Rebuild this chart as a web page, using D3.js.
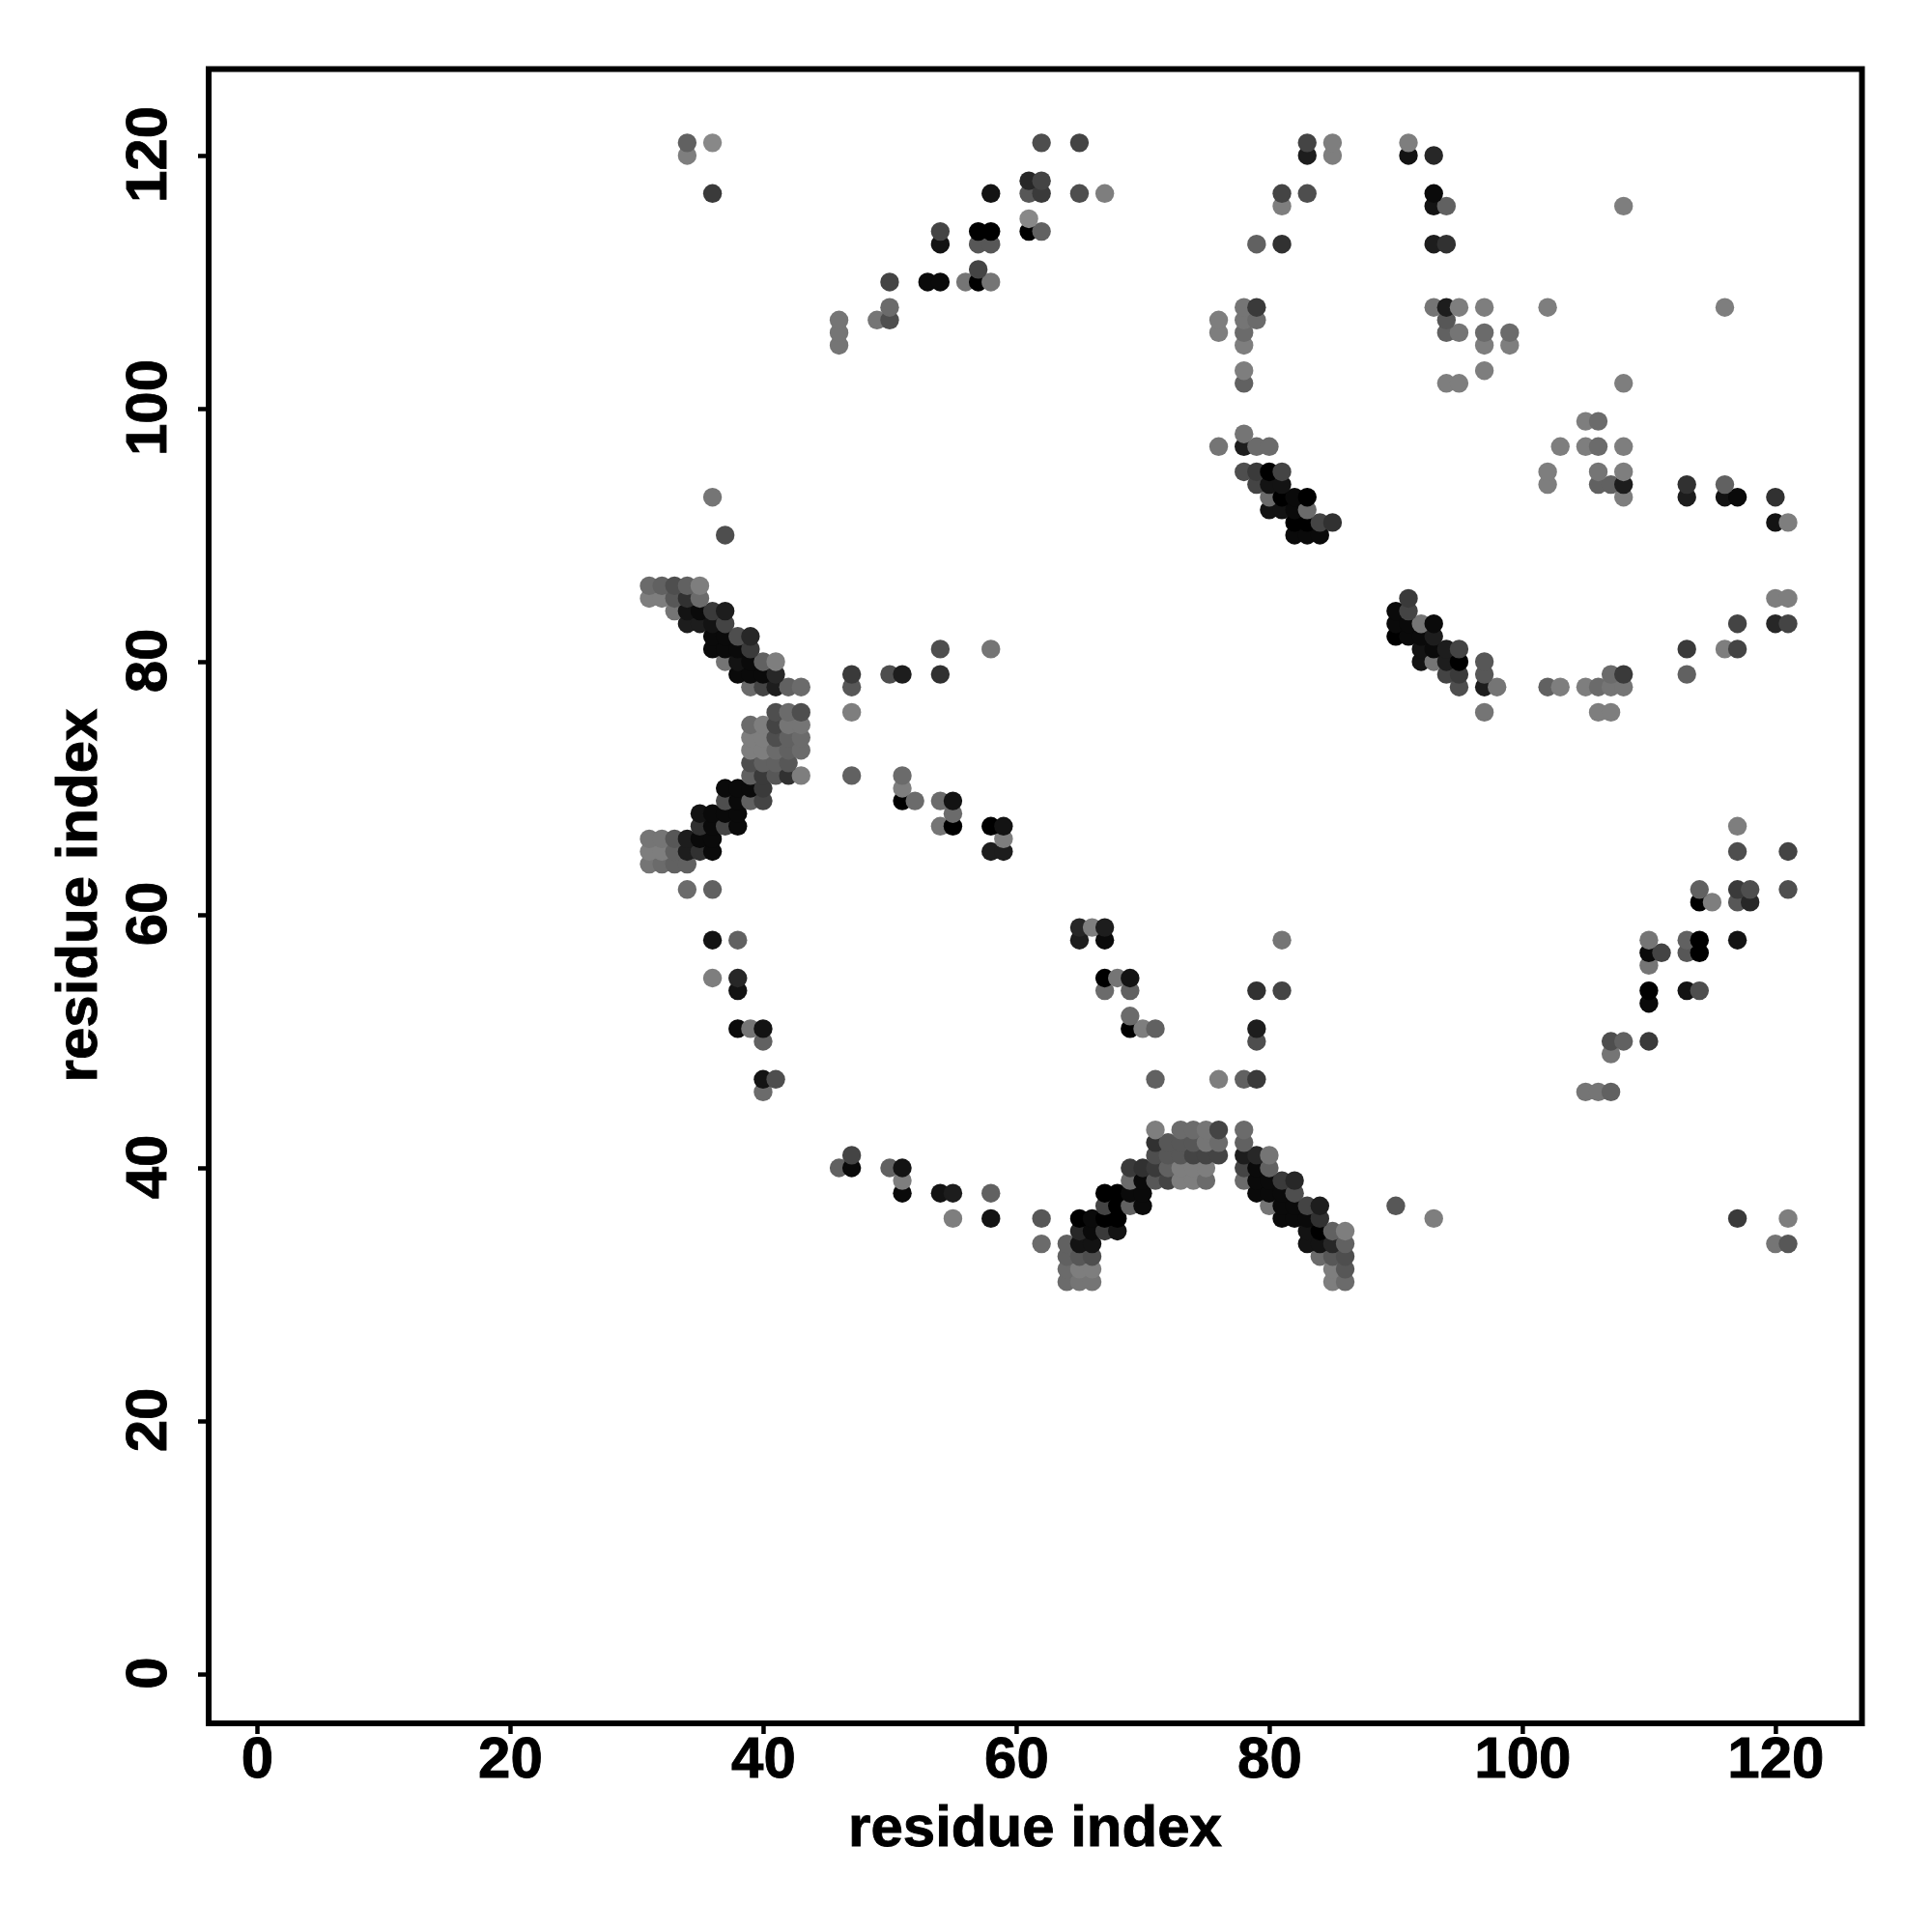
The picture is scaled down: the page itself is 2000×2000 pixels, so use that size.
<!DOCTYPE html>
<html>
<head>
<meta charset="utf-8">
<script src="https://cdn.jsdelivr.net/npm/d3@7"></script>
<style>
html,body{margin:0;padding:0;background:#fff}
svg{display:block}
text{font-family:"Liberation Sans",Arial,sans-serif;font-weight:700;fill:#000;stroke:#000;stroke-width:0.9px}
</style>
</head>
<body>
<svg id="chart" width="2000" height="2000"></svg>
<script>
// Each contact: [residue x, residue y, grey level (0 = black ... 14 = lightest)]
const clusterLeftUpper = [
[31,86,11],[32,86,10],[33,86,8],[34,86,10],[35,86,13],
[31,85,13],[32,85,13],[33,85,9],[34,85,5],[35,85,11],
[33,84,12],[34,84,2],[35,84,1],[36,84,6],[37,84,3],
[34,83,3],[35,83,3],[36,83,2],[37,83,7],
[36,82,1],[37,82,1],[38,82,8],[39,82,4],
[36,81,1],[37,81,1],[38,81,1],[39,81,6],
[37,80,12],[38,80,2],[39,80,1],[40,80,10],[41,80,13],
[38,79,1],[39,79,1],[40,79,1],[41,79,4],
[39,78,11],[40,78,7],[41,78,3],[42,78,10],[43,78,11]
];
const clusterLeftBlock = [
[41,76,8],[42,76,11],[43,76,8],
[39,75,11],[40,75,13],[41,75,7],[42,75,12],[43,75,12],
[39,74,13],[40,74,13],[41,74,8],[42,74,10],[43,74,11],
[39,73,13],[40,73,13],[41,73,11],[42,73,10],[43,73,11],
[39,72,8],[40,72,10],[41,72,10],[42,72,9],
[39,71,10],[40,71,6],[41,71,9],[42,71,5],[43,71,13]
];
const clusterLeftLower = [
[37,70,1],[38,70,1],[39,70,1],[40,70,6],
[37,69,8],[38,69,1],[39,69,10],[40,69,7],
[35,68,2],[36,68,1],[37,68,1],[38,68,1],
[35,67,5],[36,67,1],[37,67,7],[38,67,1],
[31,66,12],[32,66,12],[33,66,9],[34,66,3],[35,66,1],[36,66,1],
[31,65,13],[32,65,13],[33,65,10],[34,65,3],[35,65,5],[36,65,1],
[31,64,12],[32,64,11],[33,64,10],[34,64,10],
[34,62,11],[36,62,10]
];
const clusterBottomLeft = [
[64,34,10],[65,34,2],[66,34,2],
[64,33,10],[65,33,9],[66,33,8],
[64,32,11],[65,32,13],[66,32,13],
[64,31,11],[65,31,12],[66,31,12],
[65,36,0],[66,36,1],[67,36,0],[68,36,0],
[65,35,4],[66,35,1],[67,35,6],[68,35,2],
[67,38,0],[68,38,0],[69,38,1],[70,38,1],
[67,37,7],[68,37,0],[69,37,10],[70,37,1],
[69,40,6],[70,40,5],[71,40,6],[72,40,10],[73,40,13],[74,40,13],[75,40,13],
[69,39,11],[70,39,1],[71,39,9],[72,39,7],[73,39,13],[74,39,13],[75,39,11],
[71,43,13],[73,43,11],[74,43,11],[75,43,12],[76,43,7],
[71,42,5],[72,42,9],[73,42,9],[74,42,9],[75,42,12],[76,42,11],
[71,41,8],[72,41,9],[73,41,9],[74,41,7],[75,41,7],[76,41,7]
];
const clusterBottomRight = [
[78,43,11],[78,42,10],[78,41,3],[79,41,4],[80,41,12],
[78,40,7],[79,40,1],[80,40,10],
[78,39,11],[79,39,1],[80,39,1],[81,39,6],[82,39,4],
[79,38,1],[80,38,1],[81,38,1],[82,38,8],
[80,37,12],[81,37,1],[82,37,1],[83,37,7],[84,37,3],
[81,36,1],[82,36,1],[83,36,1],[84,36,5],
[83,35,2],[84,35,0],[85,35,10],[86,35,13],
[83,34,2],[84,34,2],[85,34,4],[86,34,10],
[84,33,11],[85,33,9],[86,33,8],
[85,32,13],[86,32,9],
[85,31,13],[86,31,11]
];
const clusterDiagUpper = [
[78,98,12],[76,97,12],[78,97,3],[79,97,11],[80,97,11],
[78,95,8],[79,95,6],[80,95,0],[81,95,7],
[79,94,7],[80,94,2],[81,94,2],
[80,93,11],[81,93,0],[82,93,1],[83,93,0],
[80,92,2],[81,92,2],[82,92,1],[83,92,11],
[82,91,0],[83,91,0],[84,91,7],[85,91,5],
[82,90,1],[83,90,1],[84,90,1]
];
const clusterDiagLower = [
[91,85,6],[90,84,1],[91,84,7],
[90,83,1],[91,83,1],[92,83,12],[93,83,1],
[90,82,0],[91,82,1],[92,82,1],[93,82,3],
[92,81,2],[93,81,1],[94,81,3],[95,81,7],
[92,80,2],[93,80,12],[94,80,3],[95,80,0],[97,80,9],
[94,79,7],[95,79,6],[97,79,9],
[95,78,8],[97,78,3],[98,78,12],[97,76,12]
];
const contactsTopLeft = [
[34,121,10],[36,121,14],[62,121,8],[65,121,7],[34,120,13],
[61,118,4],[62,118,7],
[36,117,6],[58,117,2],[61,117,9],[62,117,6],[65,117,8],[67,117,13],
[61,115,14],[54,114,7],[57,114,0],[58,114,0],[61,114,0],[62,114,10],
[54,113,2],[57,113,9],[58,113,9],[57,111,7],
[50,110,7],[53,110,1],[54,110,1],[56,110,12],[57,110,0],[58,110,12],
[50,108,11],[46,107,12],[49,107,12],[50,107,8],[46,106,12],[46,105,12],
[36,93,12],[37,90,8]
];
const contactsTopRight = [
[83,121,7],[85,121,13],[91,121,13],[83,120,3],[85,120,13],[91,120,2],[93,120,4],
[81,117,7],[83,117,8],[93,117,1],[81,116,13],[93,116,2],[94,116,10],[108,116,13],
[79,113,10],[81,113,5],[93,113,3],[94,113,5],
[78,108,12],[79,108,6],[93,108,12],[94,108,3],[95,108,13],[97,108,13],[102,108,13],[116,108,13],
[76,107,13],[78,107,12],[79,107,11],[94,107,9],
[76,106,13],[78,106,11],[94,106,10],[95,106,12],[97,106,11],[99,106,11],
[78,105,13],[97,105,13],[99,105,13],
[78,103,13],[97,103,13],[78,102,10],[94,102,13],[95,102,13],[108,102,13]
];
const contactsRight = [
[105,99,13],[106,99,11],[103,97,13],[105,97,13],[106,97,11],[108,97,13],
[102,95,13],[106,95,12],[108,95,13],
[102,94,13],[106,94,10],[107,94,10],[108,94,3],[113,94,5],[116,94,10],
[108,93,13],[113,93,3],[116,93,2],[117,93,1],[120,93,5],
[120,91,2],[121,91,13],[120,85,13],[121,85,13],
[117,83,7],[120,83,4],[121,83,7],
[113,81,6],[116,81,13],[117,81,7],
[107,79,11],[108,79,6],[113,79,10],
[102,78,10],[103,78,13],[105,78,13],[106,78,11],[107,78,12],[108,78,12],
[106,76,13],[107,76,13]
];
const contactsMiddleLeft = [
[54,81,8],[58,81,12],[47,79,6],[50,79,8],[51,79,3],[54,79,5],
[47,78,9],[47,76,13],[47,71,10],[51,71,11],[51,70,13],
[51,69,0],[52,69,11],[54,69,11],[55,69,2],[55,68,11],
[54,67,12],[55,67,0],[58,67,0],[59,67,2],[59,66,13],[58,65,3],[59,65,3]
];
const contactsLowerLeft = [
[65,59,4],[66,59,13],[67,59,3],
[36,58,2],[38,58,10],[65,58,3],[67,58,1],[81,58,12],
[36,55,13],[38,55,4],[67,55,0],[68,55,12],[69,55,2],
[38,54,2],[67,54,11],[69,54,10],[79,54,5],[81,54,7],[69,52,11],
[38,51,1],[39,51,12],[40,51,2],[69,51,0],[70,51,13],[71,51,10],[79,51,3],
[40,50,10],[79,50,8],
[40,47,2],[41,47,8],[71,47,10],[76,47,13],[78,47,10],[79,47,6],[40,46,11],
[47,41,7],[46,40,10],[47,40,1],[50,40,10],[51,40,2],[51,39,13],
[51,38,1],[54,38,2],[55,38,3],[58,38,10],
[55,36,13],[58,36,2],[62,36,9],[62,34,11]
];
const contactsLowerRight = [
[117,67,13],[117,65,8],[121,65,7],
[114,62,10],[117,62,6],[118,62,8],[121,62,8],
[114,61,0],[115,61,13],[117,61,9],[118,61,4],
[110,58,12],[113,58,10],[114,58,0],[117,58,2],
[110,57,1],[111,57,7],[113,57,9],[114,57,0],[110,56,12],
[110,54,0],[113,54,2],[114,54,8],[110,53,1],
[107,50,8],[108,50,10],[110,50,6],[107,49,12],
[105,46,12],[106,46,12],[107,46,10],
[90,37,9],[93,36,13],[117,36,6],[121,36,13],[120,34,12],[121,34,9]
];
const tickValues = [0,20,40,60,80,100,120];
const xLabel = "residue index";
const yLabel = "residue index";

const contacts = [].concat(
  clusterLeftUpper, clusterLeftBlock, clusterLeftLower, clusterBottomLeft,
  clusterBottomRight, clusterDiagUpper, clusterDiagLower, contactsTopLeft,
  contactsTopRight, contactsRight, contactsMiddleLeft, contactsLowerLeft,
  contactsLowerRight
).sort((a,b) => d3.ascending(a[1],b[1]) || d3.ascending(a[0],b[0]));

const box = {left:216, right:1927.5, top:71.5, bottom:1784};
const x = d3.scaleLinear().domain([-3.817,126.84]).range([box.left,box.right]);
const y = d3.scaleLinear().domain([-3.893,126.83]).range([box.bottom,box.top]);
const shade = d3.scaleLinear().domain([0,14]).range(["#000000","#888888"]);

const svg = d3.select("#chart");

svg.append("g").selectAll("circle").data(contacts).join("circle")
  .attr("cx", d => x(d[0]))
  .attr("cy", d => y(d[1]))
  .attr("r", 9.7)
  .attr("fill", d => shade(d[2]));

const xAxis = svg.append("g").attr("transform",`translate(0,${box.bottom})`)
  .call(d3.axisBottom(x).tickValues(tickValues).tickSize(11).tickPadding(13).tickFormat(d3.format("d")));
const yAxis = svg.append("g").attr("transform",`translate(${box.left},0)`)
  .call(d3.axisLeft(y).tickValues(tickValues).tickSize(11).tickFormat(d3.format("d")));
[xAxis,yAxis].forEach(a => {
  a.select(".domain").remove();
  a.selectAll("line").attr("stroke","#000").attr("stroke-width",4.5);
  a.selectAll("text").attr("font-size",60).attr("fill","#000")
   .style("font-family",'"Liberation Sans",Arial,sans-serif').style("font-weight",700);
});
xAxis.selectAll("text").attr("dy",null).attr("y",null)
  .attr("dominant-baseline",null)
  .attr("y",56);
yAxis.selectAll("text")
  .attr("x",null).attr("dy",null)
  .attr("text-anchor","middle")
  .attr("transform","translate(-44,-1.5) rotate(-90)");

svg.append("rect")
  .attr("x",box.left).attr("y",box.top)
  .attr("width",box.right-box.left).attr("height",box.bottom-box.top)
  .attr("fill","none").attr("stroke","#000").attr("stroke-width",6);

svg.append("text").attr("x",1071.5).attr("y",1911)
  .attr("text-anchor","middle").attr("font-size",60).text(xLabel);
svg.append("text").attr("transform","translate(100,927) rotate(-90)")
  .attr("text-anchor","middle").attr("font-size",60).text(yLabel);
</script>
</body>
</html>
